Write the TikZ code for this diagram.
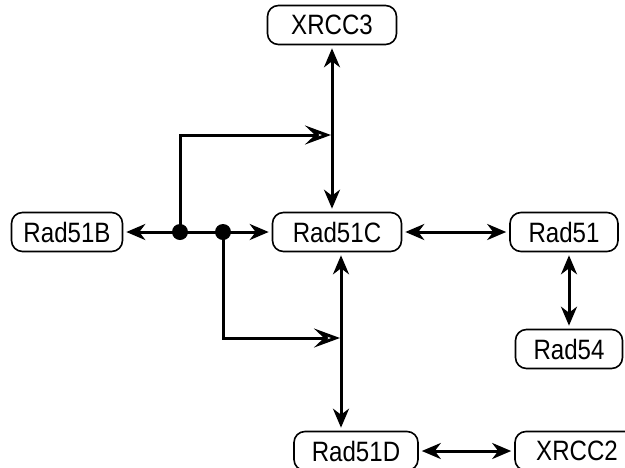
\documentclass[tikz,border=0pt]{standalone}
\usepackage{fontspec}
\setmainfont[FakeStretch=0.86]{Liberation Sans}
\usepackage{tikz}
\usetikzlibrary{
  arrows.meta,
  shapes,
  positioning
}
\tikzset{
  protein/.style={
    draw, rounded corners=11pt, minimum height=39pt, inner sep=0pt,
    font=\fontsize{28}{32}\selectfont, line width=1.6pt
  },
  bind/.style={{Stealth[length=19pt, width=16pt, inset=6pt]}-{Stealth[length=19pt, width=16pt, inset=6pt]},
    line width=3pt, shorten <=3pt, shorten >=3pt},
  hollow/.style={-{Stealth[open, length=26pt, width=19pt, inset=10pt]}, line width=3pt},
  junction/.style={circle, fill, inner sep=0pt, minimum size=16pt}
}

\begin{document}
\begin{tikzpicture}[x=1pt, y=-1pt]
  \useasboundingbox (0,0) rectangle (625,467);
  \node[protein, minimum width=129pt] (XRCC3) at (332,25) {XRCC3};
  \node[protein, minimum width=111pt] (Rad51B) at (67,232) {Rad51B};
  \node[protein, minimum width=129pt] (Rad51C) at (337,232) {Rad51C};
  \node[protein, minimum width=108pt] (Rad51) at (564,232) {Rad51};
  \node[protein, minimum width=107pt] (Rad54) at (569,349) {Rad54};
  \node[protein, minimum width=124pt] (Rad51D) at (356,451) {Rad51D};
  \node[protein, minimum width=124pt] (XRCC2) at (577,451) {XRCC2};
  % links
  \draw[bind] (Rad51B) -- (Rad51C);
  \draw[bind] (XRCC3.south) -- (XRCC3.south |- Rad51C.north);
  \draw[bind] ([xshift=4pt]Rad51C.south) -- ([xshift=4pt]Rad51C.south |- Rad51D.north);
  \draw[bind] (Rad51C) -- (Rad51);
  \draw[bind] (Rad54.north |- Rad51.south) -- (Rad54.north);
  \draw[bind] (Rad51D) -- (XRCC2);
  % mediated
  \node[junction] (j1) at (180,232) {};
  \node[junction] (j2) at (223,232) {};
  \coordinate (hitA) at (331,135);
  \coordinate (hitB) at (340,338);
  \draw[hollow] (j1.center) |- (hitA);
  \draw[hollow] (j2.center) |- (hitB);
\end{tikzpicture}
\end{document}
